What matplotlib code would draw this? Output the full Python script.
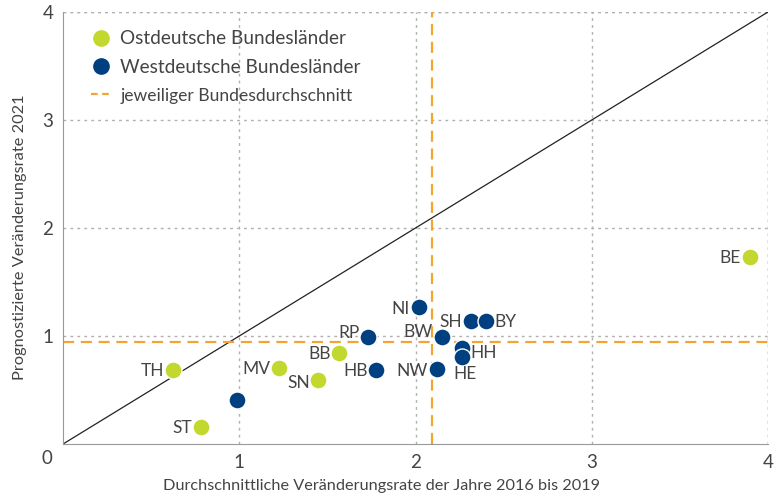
import numpy as np
import matplotlib.pyplot as plt
from matplotlib.lines import Line2D

plt.rcParams["font.family"] = ["Lato", "DejaVu Sans"]

# Ostdeutsche Bundeslaender
ost_labels = ["TH", "ST", "MV", "SN", "BB", "BE"]
ost_x = [0.624, 0.783, 1.226, 1.447, 1.566, 3.898]
ost_y = [0.685, 0.157, 0.704, 0.593, 0.843, 1.731]

# Westdeutsche Bundeslaender (one point without label)
west_labels = ["", "RP", "HB", "NI", "BW", "NW", "SH", "BY", "HH", "HE"]
west_x = [0.987, 1.730, 1.776, 2.020, 2.150, 2.122, 2.315, 2.400, 2.264, 2.264]
west_y = [0.407, 0.991, 0.685, 1.269, 0.991, 0.694, 1.139, 1.139, 0.889, 0.806]

avg_x = 2.094
avg_y = 0.944

green = "#c2d82e"
blue = "#003f80"
orange = "#f2a532"
txt = "#444444"

# label offsets in pixels (dx, dy, ha)
offsets = {
    "TH": (-9, -1, "right"), "ST": (-9, -1, "right"), "MV": (-9, -1, "right"),
    "SN": (-8, -3, "right"), "BB": (-8, -1, "right"), "BE": (-9, -1, "right"),
    "RP": (-8, 4, "right"), "HB": (-8, -1, "right"), "NI": (-9, -2, "right"),
    "BW": (-9, 5, "right"), "NW": (-9, -2, "right"), "SH": (-9, -1, "right"),
    "BY": (8, -1, "left"), "HH": (8, -5, "left"), "HE": (-9, -17, "left"),
}

fig = plt.figure(figsize=(7.81, 4.98), dpi=100)
ax = fig.add_axes([0.0807, 0.1084, 0.9027, 0.8676])

ax.set_xlim(0, 4)
ax.set_ylim(0, 4)
ax.set_xticks([1, 2, 3, 4])
ax.set_yticks([1, 2, 3, 4])
ax.grid(True, linestyle=(0, (2, 3)), color="#b0b0b0", linewidth=1)
ax.axvline(4, linestyle=(0, (2, 3)), color="#b0b0b0", linewidth=1)
ax.axhline(4, linestyle=(0, (2, 3)), color="#b0b0b0", linewidth=1)
for s in ["top", "right"]:
    ax.spines[s].set_visible(False)
for s in ["left", "bottom"]:
    ax.spines[s].set_color("#999999")
ax.tick_params(length=0, labelsize=13.5, colors=txt, pad=7)
ax.text(-0.09, -0.13, "0", fontsize=13.5, color=txt, ha="center", va="center",
        transform=ax.transData, clip_on=False)

ax.plot([0, 4], [0, 4], color="#222222", linewidth=0.9, zorder=2)
ax.axvline(avg_x, color=orange, linestyle=(0, (5, 3)), linewidth=1.6, zorder=2)
ax.axhline(avg_y, color=orange, linestyle=(0, (5, 3)), linewidth=1.6, zorder=2)

ax.scatter(ost_x, ost_y, s=150, color=green, edgecolor="white", linewidth=1, zorder=3)
ax.scatter(west_x, west_y, s=150, color=blue, edgecolor="white", linewidth=1, zorder=3)

for lab, x, y in list(zip(ost_labels, ost_x, ost_y)) + list(zip(west_labels, west_x, west_y)):
    if not lab:
        continue
    dx, dy, ha = offsets[lab]
    ax.annotate(lab, (x, y), xytext=(dx, dy), textcoords="offset pixels",
                ha=ha, va="center", fontsize=12.5, color=txt, zorder=4)

ax.set_xlabel("Durchschnittliche Veränderungsrate der Jahre 2016 bis 2019",
              fontsize=11.7, color=txt)
ax.xaxis.set_label_coords(0.452, -0.080)
ax.xaxis.label.set_va("top")
ax.set_ylabel("Prognostizierte Veränderungsrate 2021", fontsize=11.8, color=txt)
ax.yaxis.set_label_coords(-0.051, 0.479)

handles = [
    Line2D([], [], marker="o", linestyle="none", markersize=11, color=green),
    Line2D([], [], marker="o", linestyle="none", markersize=11, color=blue),
    Line2D([], [], linestyle=(0, (3, 2)), color=orange, linewidth=1.6),
]
leg = ax.legend(handles, ["Ostdeutsche Bundesländer", "Westdeutsche Bundesländer",
                          "jeweiliger Bundesdurchschnitt"],
                loc="upper left", bbox_to_anchor=(0.015, 0.997), frameon=False,
                fontsize=13.7, handlelength=1.1, handletextpad=0.45, labelspacing=0.6)
for t, fs in zip(leg.get_texts(), [13.7, 13.7, 12.6]):
    t.set_color(txt)
    t.set_fontsize(fs)

fig.savefig("out.png", dpi=100)
